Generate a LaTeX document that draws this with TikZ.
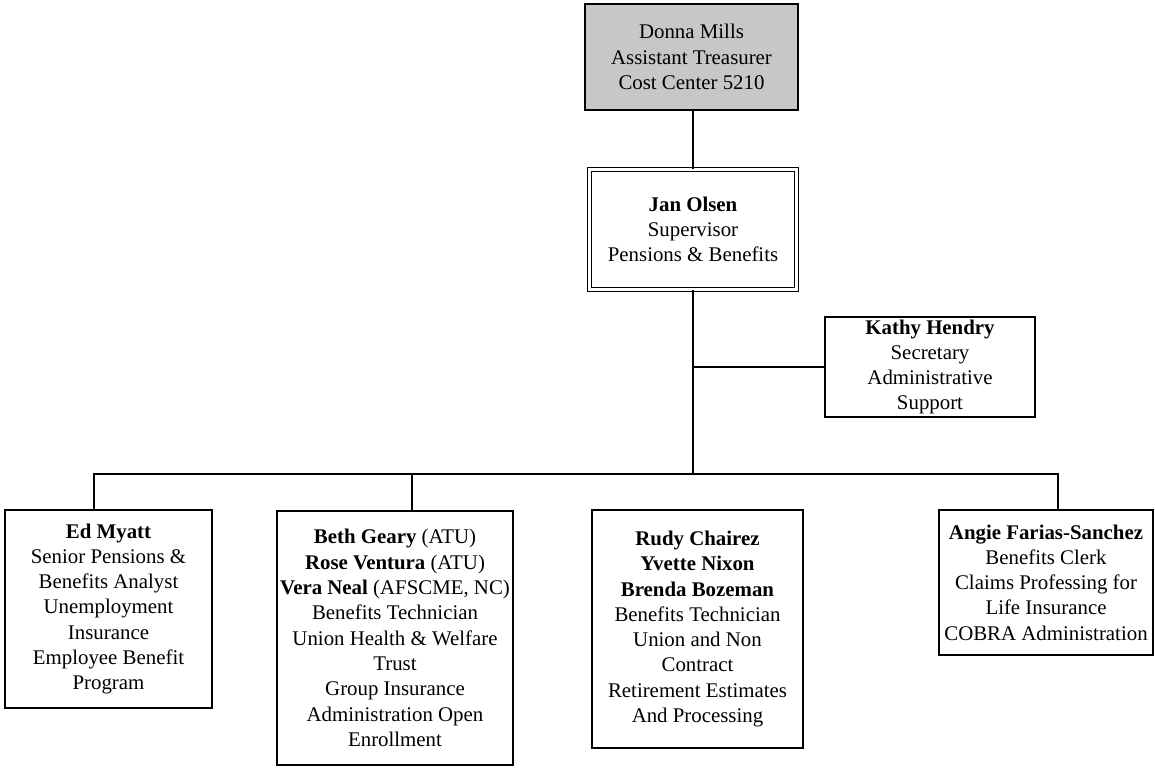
\documentclass[tikz,border=0pt]{standalone}
\usepackage{fontspec}
\setmainfont{Liberation Serif}
\usetikzlibrary{calc}
\tikzset{
 card/.style={draw,line width=1.1pt,align=center,inner sep=0pt,
              font=\fontsize{17.8}{21.6}\selectfont},
 link/.style={line width=1.1pt},
}

\begin{document}
\begin{tikzpicture}[x=0.03cm,y=-0.03cm]
\useasboundingbox (0,0) rectangle (1155,769);
\node[card,fill=black!22,minimum width=6.39cm,minimum height=3.18cm] (donna) at (691.5,57) {Donna Mills\\Assistant Treasurer\\Cost Center 5210};
\node[card,double,double distance=3pt,line width=0.8pt,minimum width=6.2cm,minimum height=3.59cm] (jan) at (693,229.5) {\textbf{Jan Olsen}\\Supervisor\\Pensions \& Benefits};
\node[card,minimum width=6.3cm,minimum height=3cm] (kathy) at (930,367) {\textbf{Kathy Hendry}\\Secretary\\Administrative\\Support};
\node[card,minimum width=6.21cm,minimum height=5.94cm] (ed) at (108.5,609) {\textbf{Ed Myatt}\\Senior Pensions \&\\Benefits Analyst\\Unemployment\\Insurance\\Employee Benefit\\Program};
\node[card,minimum width=7.08cm,minimum height=7.62cm] (beth) at (395,638) {\textbf{Beth Geary} (ATU)\\\textbf{Rose Ventura} (ATU)\\\textbf{Vera Neal} (AFSCME, NC)\\Benefits Technician\\Union Health \& Welfare\\Trust\\Group Insurance\\Administration Open\\Enrollment};
\node[card,minimum width=6.33cm,minimum height=7.14cm] (rudy) at (697.5,629) {\textbf{Rudy Chairez}\\\textbf{Yvette Nixon}\\\textbf{Brenda Bozeman}\\Benefits Technician\\Union and Non\\Contract\\Retirement Estimates\\And Processing};
\node[card,minimum width=6.42cm,minimum height=4.35cm] (angie) at (1046,582.5) {\textbf{Angie Farias-Sanchez}\\Benefits Clerk\\Claims Professing for\\Life Insurance\\COBRA Administration};

% bus taps
\coordinate (hub) at (693,474);
\coordinate (edtap) at (94,474);
\coordinate (bethtap) at (412,474);
\coordinate (angtap) at (1058,474);

\draw[link] (donna.south -| jan.north) -- (jan.north);
\draw[link] (jan.south) -- (hub);
\draw[link] (kathy.west) -- (kathy.west -| hub);
\draw[link] (ed.north -| edtap) -- (edtap) -- (angtap) -- (angie.north -| angtap);
\draw[link] (beth.north -| bethtap) -- (bethtap);
\end{tikzpicture}
\end{document}
